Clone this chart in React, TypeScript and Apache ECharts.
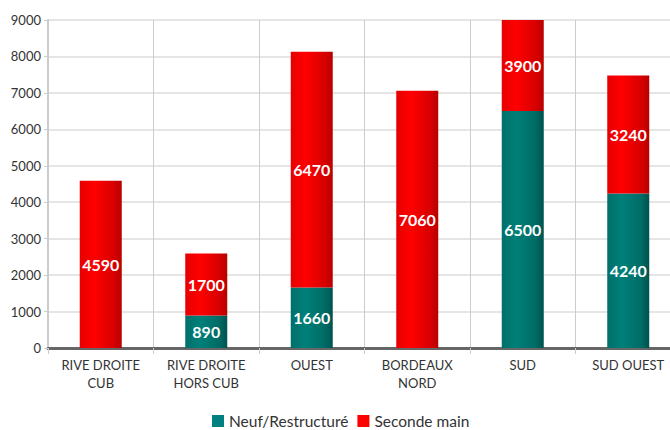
import React, { useEffect, useRef } from "react";
import * as echarts from "echarts";

// Secteurs géographiques
const categories = [
  "RIVE DROITE\nCUB",
  "RIVE DROITE\nHORS CUB",
  "OUEST",
  "BORDEAUX\nNORD",
  "SUD",
  "SUD OUEST",
];

const neufValues = [0, 890, 1660, 0, 6500, 4240];
const secondeMainValues = [4590, 1700, 6470, 7060, 3900, 3240];

const seriesNames = ["Neuf/Restructuré", "Seconde main"];
const yTicks = { min: 0, max: 9000, interval: 1000 };

const FONT = "Lato, 'Noto Sans', sans-serif";

const tealGradient = new echarts.graphic.LinearGradient(0, 0, 1, 0, [
  { offset: 0, color: "#006f6a" },
  { offset: 0.35, color: "#008079" },
  { offset: 0.8, color: "#006c66" },
  { offset: 1, color: "#00524e" },
]);

const redGradient = new echarts.graphic.LinearGradient(0, 0, 1, 0, [
  { offset: 0, color: "#e60000" },
  { offset: 0.35, color: "#ff0000" },
  { offset: 0.8, color: "#d80000" },
  { offset: 1, color: "#b80000" },
]);

const valueLabel = {
  show: true,
  position: "inside" as const,
  color: "#ffffff",
  fontFamily: FONT,
  fontWeight: "bold" as const,
  fontSize: 16,
  formatter: (p: any) => (p.value ? String(p.value) : ""),
};

export default function App() {
  const ref = useRef<HTMLDivElement>(null);

  useEffect(() => {
    if (!ref.current) return;
    const chart = echarts.init(ref.current, undefined, { renderer: "svg" });
    chart.setOption({
      animation: false,
      backgroundColor: "#ffffff",
      textStyle: { fontFamily: FONT },
      // the plot runs slightly past the visible right edge
      grid: { left: 48, top: 20, width: 633, height: 328, containLabel: false },
      legend: {
        top: 413,
        left: 212,
        padding: 0,
        icon: "rect",
        itemWidth: 12,
        itemHeight: 12,
        itemGap: 9,
        textStyle: {
          fontFamily: FONT,
          fontSize: 15.5,
          lineHeight: 16,
          color: "#333333",
        },
        data: [
          { name: seriesNames[0], itemStyle: { color: "#008080" } },
          { name: seriesNames[1], itemStyle: { color: "#ff0000" } },
        ],
      },
      xAxis: {
        type: "category",
        data: categories,
        axisLine: { lineStyle: { color: "#666666", width: 3 } },
        axisTick: { show: true, length: 6, lineStyle: { color: "#cccccc" } },
        splitLine: { show: true, lineStyle: { color: "#cccccc", width: 1 } },
        axisLabel: {
          color: "#333333",
          fontFamily: FONT,
          fontSize: 13,
          lineHeight: 18,
          margin: 8,
        },
      },
      yAxis: {
        type: "value",
        min: yTicks.min,
        max: yTicks.max,
        interval: yTicks.interval,
        axisLine: { show: true, lineStyle: { color: "#cccccc", width: 2 } },
        axisTick: { show: true, length: 4, lineStyle: { color: "#cccccc" } },
        splitLine: { lineStyle: { color: "#dddddd", width: 1.5 } },
        axisLabel: {
          color: "#333333",
          fontFamily: FONT,
          fontSize: 13,
          margin: 7,
          formatter: (v: number) => String(v),
        },
      },
      series: [
        {
          name: seriesNames[0],
          type: "bar",
          stack: "total",
          barWidth: 42,
          data: neufValues,
          itemStyle: { color: tealGradient },
          label: valueLabel,
        },
        {
          name: seriesNames[1],
          type: "bar",
          stack: "total",
          barWidth: 42,
          data: secondeMainValues,
          itemStyle: { color: redGradient },
          label: valueLabel,
        },
      ],
    });
    return () => chart.dispose();
  }, []);

  return (
    <div
      style={{
        position: "fixed",
        left: 0,
        top: 0,
        width: 670,
        height: 430,
        overflow: "hidden",
        background: "#ffffff",
      }}
    >
      <div ref={ref} style={{ width: 684, height: 430 }} />
    </div>
  );
}
